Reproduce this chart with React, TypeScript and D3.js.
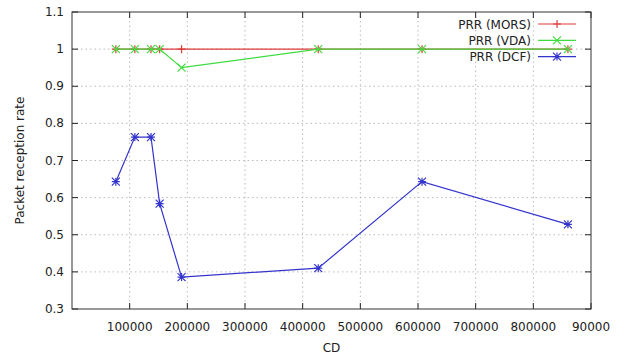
import React from "react";
import * as d3 from "d3";

const cd = [76000, 109000, 137000, 152000, 190000, 427000, 607000, 860000];
const prrMors = [1, 1, 1, 1, 1, 1, 1, 1];
const prrVda = [1, 1, 1, 1, 0.95, 1, 1, 1];
const prrDcf = [0.643, 0.763, 0.763, 0.584, 0.386, 0.41, 0.643, 0.528];

const xTicks = [100000, 200000, 300000, 400000, 500000, 600000, 700000, 800000, 900000];
const xTickLabels = ["100000", "200000", "300000", "400000", "500000", "600000", "700000", "800000", "90000"];
const yTicks = [0.3, 0.4, 0.5, 0.6, 0.7, 0.8, 0.9, 1, 1.1];

const series = [
  { name: "PRR (MORS)", values: prrMors, color: "#e03a3a", mark: "plus" },
  { name: "PRR (VDA)", values: prrVda, color: "#3fdc3f", mark: "cross" },
  { name: "PRR (DCF)", values: prrDcf, color: "#3434cc", mark: "star" },
];

const width = 630;
const height = 358;
const left = 72;
const right = 591;
const top = 12;
const bottom = 309;

const Marker = ({ x, y, type, color }: { x: number; y: number; type: string; color: string }) => {
  const s = 4;
  const plus = `M${x - s},${y}H${x + s}M${x},${y - s}V${y + s}`;
  const cross = `M${x - s},${y - s}L${x + s},${y + s}M${x - s},${y + s}L${x + s},${y - s}`;
  const d = type === "plus" ? plus : type === "cross" ? cross : plus + cross;
  return <path d={d} stroke={color} strokeWidth={1.2} fill="none" />;
};

const App = () => {
  const x = d3.scaleLinear().domain([0, 900000]).range([left, right]);
  const y = d3.scaleLinear().domain([0.3, 1.1]).range([bottom, top]);
  const line = d3
    .line<number>()
    .x((_, i) => x(cd[i]))
    .y((d) => y(d));

  const font = "DejaVu Sans, sans-serif";

  return (
    <svg width={width} height={height} style={{ position: "absolute", left: 0, top: 0, background: "#fff" }}>
      {/* grid */}
      {xTicks.slice(0, -1).map((t) => (
        <line key={"gx" + t} x1={x(t)} x2={x(t)} y1={top} y2={bottom} stroke="#aaa" strokeWidth={0.8} strokeDasharray="1.5,3" />
      ))}
      {yTicks.slice(1, -1).map((t) => (
        <line key={"gy" + t} x1={left} x2={right} y1={y(t)} y2={y(t)} stroke="#aaa" strokeWidth={0.8} strokeDasharray="1.5,3" />
      ))}

      {/* ticks */}
      {xTicks.map((t) => (
        <g key={"tx" + t}>
          <line x1={x(t)} x2={x(t)} y1={bottom} y2={bottom - 6} stroke="#222" />
          <line x1={x(t)} x2={x(t)} y1={top} y2={top + 6} stroke="#222" />
        </g>
      ))}
      {yTicks.map((t) => (
        <g key={"ty" + t}>
          <line x1={left} x2={left + 6} y1={y(t)} y2={y(t)} stroke="#222" />
          <line x1={right} x2={right - 6} y1={y(t)} y2={y(t)} stroke="#222" />
        </g>
      ))}

      {/* tick labels */}
      {xTicks.map((t, i) => (
        <text key={"lx" + t} x={x(t)} y={bottom + 22} textAnchor="middle" fontFamily={font} fontSize={12} fill="#222">
          {xTickLabels[i]}
        </text>
      ))}
      {yTicks.map((t) => (
        <text key={"ly" + t} x={left - 8} y={y(t) + 4} textAnchor="end" fontFamily={font} fontSize={12} fill="#222">
          {d3.format("~g")(t)}
        </text>
      ))}

      {/* axis titles */}
      <text x={(left + right) / 2} y={352} textAnchor="middle" fontFamily={font} fontSize={12} fill="#222">
        CD
      </text>
      <text
        transform={`translate(24,${(top + bottom) / 2}) rotate(-90)`}
        textAnchor="middle"
        fontFamily={font}
        fontSize={12}
        fill="#222"
      >
        Packet reception rate
      </text>

      {/* series */}
      {series.map((s) => (
        <g key={s.name}>
          <path d={line(s.values) || ""} fill="none" stroke={s.color} strokeWidth={1.2} />
          {s.values.map((v, i) => (
            <Marker key={i} x={x(cd[i])} y={y(v)} type={s.mark} color={s.color} />
          ))}
        </g>
      ))}

      {/* legend */}
      {series.map((s, i) => {
        const ly = 24 + i * 16.3;
        return (
          <g key={"leg" + s.name}>
            <text x={531} y={ly + 4.5} textAnchor="end" fontFamily={font} fontSize={12} fill="#222">
              {s.name}
            </text>
            <line x1={538} x2={576} y1={ly} y2={ly} stroke={s.color} strokeWidth={1.2} />
            <Marker x={557} y={ly} type={s.mark} color={s.color} />
          </g>
        );
      })}

      {/* frame */}
      <rect x={left} y={top} width={right - left} height={bottom - top} fill="none" stroke="#333" strokeWidth={1} />
    </svg>
  );
};

export default App;
